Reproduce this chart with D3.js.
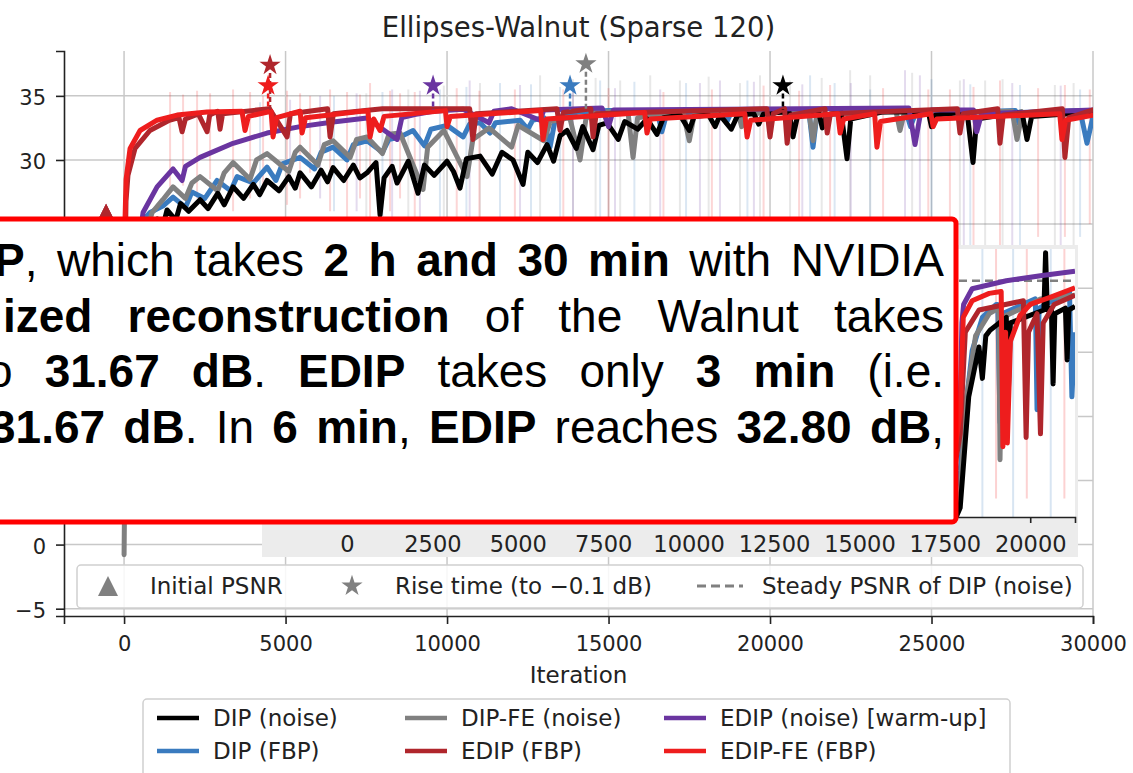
<!DOCTYPE html>
<html>
<head>
<meta charset="utf-8">
<script src="https://cdn.jsdelivr.net/npm/d3@7"></script>
<style>
  body { margin: 0; background: #fff; }
  svg { display: block; }
</style>
</head>
<body>
<div class="chart"></div>
<script>
/* DATA (iteration, PSNR in dB) */

const xTicks = [0, 5000, 10000, 15000, 20000, 25000, 30000];
const yTicks = [-5, 0, 5, 10, 15, 20, 25, 30, 35];
const insetTicks = [0, 2500, 5000, 7500, 10000, 12500, 15000, 17500, 20000];

const dipNoise = [[0,3.5],[40,8],[300,17],[700,22.5],[1022,25.4],[1200,24.8],[1331,26.1],[1600,25.3],[1750,26.6],[2000,26.0],[2353,26.9],[2600,26.2],[2900,27.4],[3100,26.5],[3375,27.9],[3700,27.0],[4000,28.1],[4200,27.3],[4427,28.4],[4800,27.6],[5100,28.7],[5300,27.8],[5449,29.0],[5800,27.9],[6100,29.2],[6300,28.3],[6471,29.4],[6800,28.4],[7100,29.6],[7300,28.6],[7523,29.0],[7800,29.8],[7926,25.7],[8050,28.6],[8300,29.5],[8452,28.2],[8800,29.9],[9100,27.4],[9300,29.6],[9600,28.8],[10000,29.9],[10200,29.1],[10400,27.8],[10600,30.1],[11022,30.3],[11400,28.9],[11700,30.6],[12043,30.0],[12353,28.1],[12500,30.6],[12800,29.8],[13096,31.2],[13300,29.9],[13500,31.9],[13715,32.3],[14000,30.9],[14200,32.6],[14520,30.8],[14700,32.7],[14954,32.9],[15300,31.6],[15500,33.0],[15900,32.4],[16192,33.2],[16500,32.0],[16700,33.3],[17214,33.5],[17500,32.3],[17650,33.4],[18100,33.5],[18300,32.6],[18450,33.5],[18800,32.4],[19000,33.5],[19500,33.6],[19650,32.8],[19800,33.6],[20403,33.75],[20600,33.7],[20712,31.8],[20850,33.4],[21500,33.75],[21620,32.5],[21750,33.5],[22200,33.75],[22384,30.1],[22500,33.2],[23500,33.75],[24900,33.75],[25000,32.6],[25120,33.5],[26100,33.75],[26285,29.8],[26400,33.2],[27800,33.75],[27957,31.6],[28100,33.4],[30000,33.75]];

const dipFBP = [[0,22],[150,23.5],[400,24.8],[805,25.9],[1200,26.4],[1517,27.1],[1900,26.3],[2100,27.5],[2500,27.0],[2879,28.4],[3300,27.6],[3500,28.7],[4000,28.2],[4427,29.45],[4700,28.4],[4900,29.7],[5449,30.2],[5900,29.3],[6100,30.6],[6471,31.0],[6900,30.0],[7100,31.2],[7523,31.5],[8000,30.6],[8200,31.6],[8545,31.8],[8947,32.3],[9300,31.1],[9500,32.4],[10000,32.7],[10500,31.8],[10700,32.8],[11022,32.9],[11331,32.1],[11500,32.9],[12260,33.1],[12500,32.4],[12650,33.1],[13000,33.3],[13189,31.0],[13350,33.2],[13800,33.6],[14118,33.75],[15000,33.85],[16500,33.85],[16650,32.2],[16800,33.6],[18500,33.85],[18650,32.9],[18800,33.7],[21200,33.85],[21331,31.0],[21450,33.5],[24200,33.85],[24350,32.6],[24500,33.6],[27600,33.85],[27700,32.9],[27800,33.7],[29600,33.85],[29814,31.3],[30000,33.4]];

const dipFeNoise = [[0,-0.8],[30,7],[200,17],[600,23.5],[867,25.9],[1200,26.9],[1517,27.9],[1900,27.0],[2100,28.2],[2353,28.7],[2900,27.6],[3100,29.0],[3375,29.8],[3900,28.5],[4100,30.0],[4427,30.5],[5100,29.1],[5300,30.6],[5449,31.0],[6000,29.6],[6200,31.2],[6471,31.5],[7000,30.2],[7200,31.6],[7523,31.8],[8000,30.5],[8200,32.0],[8545,32.1],[9257,27.7],[9400,31.0],[9900,32.3],[10619,28.7],[10800,31.6],[11300,32.5],[12000,31.0],[12200,32.7],[13000,31.5],[13200,33.0],[13800,33.3],[14118,30.0],[14300,33.2],[14500,33.7],[15600,33.8],[15759,30.2],[15900,33.3],[17300,33.8],[17500,31.5],[17650,33.5],[19000,33.8],[19120,32.6],[19250,33.6],[21200,33.8],[21331,31.5],[21450,33.5],[23900,33.8],[24025,32.3],[24150,33.6],[27500,33.8],[27647,31.6],[27800,33.5],[30000,33.8]];

const edipNoise = [[0,4],[250,20],[588,25.9],[1022,27.9],[1517,29.3],[1796,28.4],[1900,29.5],[2353,30.2],[3375,31.3],[4427,32.1],[5449,32.6],[6471,32.96],[7523,33.27],[8452,31.6],[8600,33.3],[9000,33.55],[9567,33.8],[10500,33.95],[11300,32.9],[11450,33.8],[12000,34.0],[12880,33.1],[13000,33.9],[14800,34.05],[15000,32.6],[15150,33.9],[24300,34.05],[24489,31.2],[24650,33.5],[25000,33.9],[26300,33.9],[26400,32.2],[26550,33.6],[30000,33.9]];

const edipFBP = [[0,12],[30,22],[60,26.8],[120,28.8],[340,30.9],[800,32.3],[1400,33.1],[1700,33.3],[1796,32.2],[1900,33.2],[2300,33.6],[2570,32.2],[2650,33.5],[2900,33.8],[2972,32.4],[3050,33.6],[4500,34.0],[5046,31.8],[5150,33.6],[6300,34.0],[6378,31.8],[6480,33.6],[8000,34.0],[10700,34.0],[10800,31.6],[10900,33.6],[13400,34.0],[13500,32.3],[13600,33.7],[14450,34.0],[14520,31.8],[14620,33.6],[19900,34.0],[20000,31.8],[20100,33.6],[20450,34.0],[20530,31.3],[20630,33.5],[21700,34.0],[21770,32.1],[21870,33.6],[25800,34.0],[25880,32.1],[25980,33.6],[27050,34.0],[27120,31.3],[27220,33.5],[29050,34.0],[29130,30.2],[29250,33.3],[30000,33.9]];

const edipFeFBP = [[0,14],[31,25.5],[62,28.5],[186,30.9],[495,32.3],[1022,33.1],[1641,33.5],[2570,33.74],[3650,33.8],[3746,32.3],[3850,33.4],[4550,33.8],[4613,31.8],[4720,33.3],[5450,33.8],[5511,32.1],[5620,33.3],[7550,33.85],[7616,31.8],[7730,33.2],[7926,32.3],[8050,33.4],[9950,33.85],[10000,32.6],[10100,33.4],[12900,33.85],[12970,31.6],[13080,33.2],[16120,33.7],[16190,32.1],[16300,33.2],[19220,33.6],[19290,31.8],[19400,33.1],[22100,33.6],[22170,32.1],[22280,33.2],[23240,33.6],[23310,31.0],[23420,33.0],[24980,33.6],[25050,32.6],[25160,33.2],[28970,33.6],[29040,31.6],[29150,33.1],[30000,33.5]];

// faint raw spikes: [iteration, high, low]
const spikesRed = [[1424,35.3,27.5],[1827,35.1,28],[2260,35.4,27],[2663,35.2,28.5],[3375,35.5,26],[3901,35.3,27],[4304,35.0,28],[5046,35.4,26.5],[5449,35.2,27],[5759,35.0,29],[6378,35.5,26],[6904,35.3,25],[7306,35.1,27],[7616,36.0,24],[8235,35.4,26],[8545,35.2,27],[9000,35.3,25],[10300,35.6,24],[11000,35.4,24],[12100,35.5,25],[13600,35.5,25],[15000,35.6,24],[16700,35.3,25],[18200,35.5,24],[19800,35.8,24],[20900,35.4,25],[21860,35.85,24],[23500,35.6,24],[24900,35.5,24],[25570,35.5,25],[26300,35.7,23],[27120,36.2,23],[28300,35.6,24],[29130,35.85,24],[29900,35.5,25]];
const spikesPurple = [[5140,34.7,28],[6070,35.0,27],[7200,35.2,26],[8300,35.5,25],[9160,35.4,25],[10700,36.2,24],[12260,35.85,25],[13900,35.8,24],[15200,35.6,24],[16600,35.5,24],[17830,36.0,23],[18450,36.2,24],[19500,36.1,23],[21000,35.9,23],[22500,36.0,23],[24180,37.0,22],[24640,36.6,23],[26000,36.3,22],[27500,36.0,23],[29000,35.8,23]];
const spikesBlue = [[4210,34.5,27],[6500,35.0,26],[8000,35.3,25],[9780,35.5,25],[10600,35.7,24],[11640,36.0,24],[12600,35.9,24],[13500,35.7,25],[14740,36.2,23],[15800,36.1,23],[17400,36.0,23],[19300,36.2,23],[21240,36.6,22],[22000,36.0,23],[23100,35.5,24],[25000,36.3,22],[26200,35.9,23],[27740,35.85,23],[29600,35.5,24]];
const spikesGray = [[7500,35.2,25],[8800,35.5,24],[9900,35.8,24],[11020,36.0,24],[12880,36.6,23],[13900,36.3,23],[14600,36.4,23],[15360,36.2,23],[16290,36.6,22],[17210,36.2,24],[18100,36.5,22],[19070,36.0,23],[19690,36.6,22],[20620,36.2,23],[21600,36.4,22],[22480,37.0,21],[23100,36.6,22],[24400,36.8,22],[25880,36.2,23],[26660,36.2,22],[27200,36.3,22],[28820,35.85,23],[29400,36.0,23]];

// rise time markers (star) and initial PSNR markers (triangle)
const riseIter = [20400, 13808, 14300, 9567, 4520, 4460];
const risePsnr = [35.8, 35.8, 37.5, 35.8, 37.4, 35.8];
const steadyLevel = 33.9;
const initIter = -557;
const initPsnr = [12.0, 25.8, 12.2, 12.4, 25.8, 25.8];
const insetSteady = 32.78;

// inset (zoomed run), visible part only
const insetPurple = [[17600,22],[17950,26.0],[18000,30.5],[18050,31.5],[18300,32.35],[19300,32.78],[20300,33.05],[21311,33.3]];
const insetRed = [[17600,21],[17950,25.7],[18040,30.8],[18300,31.7],[18800,32.1],[19150,32.2],[19200,23.8],[19280,30.0],[19330,24.0],[19420,29.5],[19700,30.9],[20000,31.5],[20600,31.9],[21311,32.4]];
const insetDarkRed = [[17600,20.5],[17950,24.5],[18100,30.0],[18500,31.2],[19800,31.7],[19880,24.3],[19950,30.0],[20200,31.0],[20300,24.5],[20380,30.5],[20700,31.5],[21311,32.0]];
const insetBlue = [[17600,20],[17950,22.5],[18100,25.7],[18300,29.0],[18600,30.8],[19000,31.5],[19050,31.5],[19116,25.1],[19180,31.0],[20150,31.8],[20200,25.8],[20260,31.3],[21150,32.2],[21220,26.5],[21311,30.0]];
const insetBlack = [[17600,19],[17950,20.5],[18050,22.9],[18200,26.5],[18500,29.2],[18600,27.5],[18700,29.8],[18823,30.1],[19300,30.8],[19350,26.1],[19420,30.5],[20400,31.2],[20450,34.3],[20500,31.2],[20620,31.3],[20670,27.2],[20720,31.0],[21030,31.3],[21080,28.5],[21130,31.2],[21311,31.4]];
const insetGray = [[17600,19],[17950,21],[18100,26],[18400,29.8],[18800,31.0],[19080,31.3],[19116,23.1],[19180,30.8],[20000,31.5],[20300,31.8],[21311,32.0]];
const insetSpikes = [[18600,34.5,20],[19000,34.5,21],[19500,34.5,20],[19900,34.5,21],[20600,34.5,20],[21000,34.5,21]];

const seriesNames = ["DIP (noise)", "DIP (FBP)", "DIP-FE (noise)", "EDIP (noise) [warm-up]", "EDIP (FBP)", "EDIP-FE (FBP)"];
const seriesColors = ["#000000", "#3a7bbf", "#808080", "#6a35a0", "#b0262c", "#ee1d1d"];

/* CHART */

const W = 1133, H = 773;
const svg = d3.select(".chart").append("svg")
    .attr("width", W)
    .attr("height", H)
    .style("font-family", "'DejaVu Sans', sans-serif");

const x = d3.scaleLinear().domain([-1860, 30000]).range([64, 1093]);
const y = d3.scaleLinear().domain([-5.57, 38.5]).range([616, 51]);

svg.append("defs").append("clipPath").attr("id", "clip")
  .append("rect").attr("x", 64).attr("y", 51).attr("width", 1029).attr("height", 565);

// grid
svg.append("g").selectAll("line").data(xTicks).join("line")
    .attr("x1", d => x(d)).attr("x2", d => x(d))
    .attr("y1", y.range()[1]).attr("y2", y.range()[0])
    .attr("stroke", "#c8c8c8").attr("stroke-width", 1.5);
svg.append("g").selectAll("line").data(yTicks).join("line")
    .attr("x1", x.range()[0]).attr("x2", x.range()[1])
    .attr("y1", d => y(d)).attr("y2", d => y(d))
    .attr("stroke", "#c8c8c8").attr("stroke-width", 1.5);

const plot = svg.append("g").attr("clip-path", "url(#clip)");

// faint raw spikes
const spikeSets = [[spikesBlue, 1], [spikesGray, 2], [spikesPurple, 3], [spikesRed, 5]];
spikeSets.forEach(([set, c]) => {
  plot.append("g").selectAll("line").data(set).join("line")
      .attr("x1", d => x(d[0])).attr("x2", d => x(d[0]))
      .attr("y1", d => y(d[1])).attr("y2", d => y(d[2]))
      .attr("stroke", seriesColors[c]).attr("stroke-opacity", 0.18).attr("stroke-width", 2);
});

const line = d3.line().x(d => x(d[0])).y(d => y(d[1]));
const mainSeries = [dipFBP, dipFeNoise, dipNoise, edipNoise, edipFBP, edipFeFBP];
const mainColor = [1, 2, 0, 3, 4, 5];
mainSeries.forEach((s, i) => {
  plot.append("path").datum(s)
      .attr("d", line)
      .attr("fill", "none")
      .attr("stroke", seriesColors[mainColor[i]])
      .attr("stroke-width", 5)
      .attr("stroke-linejoin", "round")
      .attr("stroke-linecap", "round");
});

// rise-time stems and stars
const riseOrder = [0, 1, 2, 3, 4, 5];
plot.append("g").selectAll("line").data(riseOrder).join("line")
    .attr("x1", i => x(riseIter[i])).attr("x2", i => x(riseIter[i]))
    .attr("y1", i => y(risePsnr[i]) + 8).attr("y2", y(steadyLevel))
    .attr("stroke", i => seriesColors[i]).attr("stroke-width", 2.5)
    .attr("stroke-dasharray", "5,3");
const star = d3.symbol().type(d3.symbolStar).size(140);
plot.append("g").selectAll("path").data(riseOrder).join("path")
    .attr("d", star)
    .attr("transform", i => `translate(${x(riseIter[i])},${y(risePsnr[i])})`)
    .attr("fill", i => seriesColors[i]);

// initial PSNR triangles
const triangle = "M0,-10L10,10L-10,10Z";
plot.append("g").selectAll("path").data([0, 2, 3, 1, 5, 4]).join("path")
    .attr("d", triangle)
    .attr("transform", i => `translate(${x(initIter)},${y(initPsnr[i])})`)
    .attr("fill", i => seriesColors[i]);

// axes
const xAxis = d3.axisBottom(x).tickValues(xTicks).tickFormat(d3.format("d")).tickSizeOuter(0).tickSize(8).tickPadding(12);
const yAxis = d3.axisLeft(y).tickValues(yTicks).tickFormat(d3.format("d")).tickSizeOuter(0).tickSize(8).tickPadding(10);

const gx = svg.append("g").attr("transform", `translate(0,${y.range()[0]})`).call(xAxis);
const gy = svg.append("g").attr("transform", `translate(${x.range()[0]},0)`).call(yAxis);
[gx, gy].forEach(g => {
  g.select(".domain").attr("stroke", "#222").attr("stroke-width", 1.6);
  g.selectAll(".tick line").attr("stroke", "#222").attr("stroke-width", 1.6);
  g.selectAll(".tick text").attr("fill", "#222").style("font-size", "21px").style("font-family", "'DejaVu Sans', sans-serif");
});
gy.selectAll(".tick text").attr("dy", "0.42em");

svg.append("text")
    .attr("x", (x.range()[0] + x.range()[1]) / 2).attr("y", 37)
    .attr("text-anchor", "middle")
    .style("font-size", "27.5px").attr("fill", "#222")
    .text("Ellipses-Walnut (Sparse 120)");

svg.append("text")
    .attr("x", (x.range()[0] + x.range()[1]) / 2).attr("y", 683)
    .attr("text-anchor", "middle")
    .style("font-size", "23px").attr("fill", "#222")
    .text("Iteration");

/* INSET */

const ix = d3.scaleLinear().domain([-351, 21311]).range([335, 1075]);
const iy = d3.scaleLinear().domain([20, 34.5]).range([517, 249]);

const inset = svg.append("g");
inset.append("rect").attr("x", 262).attr("y", 245).attr("width", 816).attr("height", 312).attr("fill", "#ececec");
inset.append("rect").attr("x", ix.range()[0]).attr("y", iy.range()[1])
    .attr("width", ix.range()[1] - ix.range()[0]).attr("height", iy.range()[0] - iy.range()[1])
    .attr("fill", "#fff");
inset.append("defs").append("clipPath").attr("id", "iclip")
  .append("rect").attr("x", ix.range()[0]).attr("y", iy.range()[1])
    .attr("width", ix.range()[1] - ix.range()[0]).attr("height", iy.range()[0] - iy.range()[1]);
const iplot = inset.append("g").attr("clip-path", "url(#iclip)");
iplot.append("g").selectAll("line").data(insetSpikes).join("line")
    .attr("x1", d => ix(d[0])).attr("x2", d => ix(d[0]))
    .attr("y1", d => iy(d[1])).attr("y2", d => iy(d[2]))
    .attr("stroke", (d, i) => i % 2 ? seriesColors[5] : seriesColors[1])
    .attr("stroke-opacity", 0.2).attr("stroke-width", 2);
iplot.append("line")
    .attr("x1", ix.range()[0]).attr("x2", ix.range()[1])
    .attr("y1", iy(insetSteady)).attr("y2", iy(insetSteady))
    .attr("stroke", "#808080").attr("stroke-width", 2.5).attr("stroke-dasharray", "8,5");
const iline = d3.line().x(d => ix(d[0])).y(d => iy(d[1]));
const insetSeries = [insetBlue, insetGray, insetBlack, insetPurple, insetDarkRed, insetRed];
insetSeries.forEach((s, i) => {
  iplot.append("path").datum(s)
      .attr("d", iline)
      .attr("fill", "none")
      .attr("stroke", seriesColors[mainColor[i]])
      .attr("stroke-width", 5)
      .attr("stroke-linejoin", "round");
});
const ixAxis = d3.axisBottom(ix).tickValues(insetTicks).tickFormat(d3.format("d")).tickSizeOuter(0).tickSize(6).tickPadding(13);
const gix = inset.append("g").attr("transform", `translate(0,${iy.range()[0]})`).call(ixAxis);
gix.select(".domain").attr("stroke", "#222").attr("stroke-width", 1.6);
gix.selectAll(".tick line").attr("stroke", "#222").attr("stroke-width", 1.6);
gix.selectAll(".tick text").attr("fill", "#222").style("font-size", "22.5px").style("font-family", "'DejaVu Sans', sans-serif");

/* MARKER LEGEND */

const leg = svg.append("g");
leg.append("rect").attr("x", 77).attr("y", 565).attr("width", 1006).attr("height", 43).attr("rx", 4)
    .attr("fill", "#fff").attr("fill-opacity", 0.85).attr("stroke", "#d0d0d0").attr("stroke-width", 1.5);
leg.append("path").attr("d", triangle).attr("transform", "translate(108,586)").attr("fill", "#808080");
leg.append("path").attr("d", star).attr("transform", "translate(352,586)").attr("fill", "#808080");
leg.append("line").attr("x1", 697).attr("x2", 743).attr("y1", 586).attr("y2", 586)
    .attr("stroke", "#808080").attr("stroke-width", 3).attr("stroke-dasharray", "9,5");
const markerLabels = [["Initial PSNR", 150], ["Rise time (to \u22120.1 dB)", 395], ["Steady PSNR of DIP (noise)", 762]];
leg.selectAll("text").data(markerLabels).join("text")
    .attr("x", d => d[1]).attr("y", 594)
    .style("font-size", "23px").attr("fill", "#222")
    .text(d => d[0]);

/* TEXT BOX */

const box = svg.append("g");
box.append("rect").attr("x", -20).attr("y", 219).attr("width", 976).attr("height", 303).attr("rx", 4)
    .attr("fill", "#fff").attr("stroke", "#ff0000").attr("stroke-width", 5);

const boxLines = [
  [[["P",1],[",",0]], [["which",0]], [["takes",0]], [["2",1]], [["h",1]], [["and",1]], [["30",1]], [["min",1]], [["with",0]], [["NVIDIA",0]]],
  [[["ized",1]], [["reconstruction",1]], [["of",0]], [["the",0]], [["Walnut",0]], [["takes",0]]],
  [[["o",0]], [["31.67",1]], [["dB",1],[".",0]], [["EDIP",1]], [["takes",0]], [["only",0]], [["3",1]], [["min",1]], [["(i.e.",0]]],
  [[["31.67",1]], [["dB",1],[".",0]], [["In",0]], [["6",1]], [["min",1],[",",0]], [["EDIP",1]], [["reaches",0]], [["32.80",1]], [["dB",1],[",",0]]]
];
const lineStart = [-6, 3, -13, -10];
const lineBase = [276, 332, 387, 443];
const lineEnd = 944;

boxLines.forEach((words, li) => {
  const nodes = words.map(runs => {
    const t = box.append("text").attr("y", lineBase[li])
        .style("font-family", "'Liberation Sans', Arial, sans-serif")
        .style("font-size", "46px").attr("fill", "#000");
    runs.forEach(r => t.append("tspan").attr("font-weight", r[1] ? "bold" : "normal").text(r[0]));
    return t;
  });
  const widths = nodes.map(n => n.node().getComputedTextLength());
  const gap = (lineEnd - lineStart[li] - d3.sum(widths)) / (nodes.length - 1);
  let cx = lineStart[li];
  nodes.forEach((n, i) => { n.attr("x", cx); cx += widths[i] + gap; });
});

/* SERIES LEGEND */

const leg2 = svg.append("g");
leg2.append("rect").attr("x", 143).attr("y", 699).attr("width", 867).attr("height", 100).attr("rx", 4)
    .attr("fill", "#fff").attr("stroke", "#d0d0d0").attr("stroke-width", 1.5);
const colX = [157, 405, 664];
const rowY = [718, 751];
const legendOrder = [0, 2, 3, 1, 4, 5];
legendOrder.forEach((s, k) => {
  const cx = colX[k % 3], cy = rowY[Math.floor(k / 3)];
  leg2.append("line").attr("x1", cx).attr("x2", cx + 42).attr("y1", cy).attr("y2", cy)
      .attr("stroke", seriesColors[s]).attr("stroke-width", 4.5);
  leg2.append("text").attr("x", cx + 56).attr("y", cy + 8)
      .style("font-size", "23px").attr("fill", "#222")
      .text(seriesNames[s]);
});
</script>
</body>
</html>
